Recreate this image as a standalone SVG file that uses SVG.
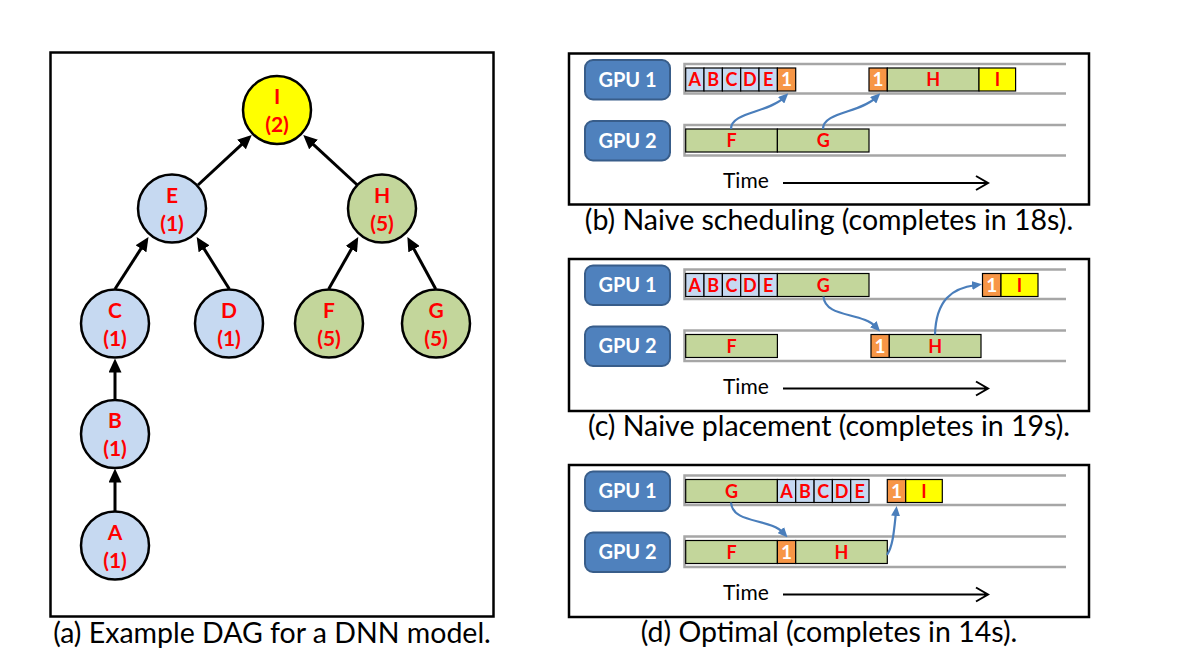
<svg xmlns="http://www.w3.org/2000/svg" width="1192" height="664" viewBox="0 0 1192 664">
<defs>
<style>
.frame{fill:#fff;stroke:#000;stroke-width:2.5}
.cap{font-family:Lato,'Open Sans','Liberation Sans',sans-serif;font-size:28.5px;fill:#000;text-anchor:middle}
.nb{fill:#C6D9F1;stroke:#000;stroke-width:2.5}
.ng{fill:#C3D69B;stroke:#000;stroke-width:2.5}
.ny{fill:#FFFF00;stroke:#000;stroke-width:2.5}
.nt{font-family:Lato,'Open Sans','Liberation Sans',sans-serif;font-weight:bold;font-size:21px;fill:#FF0000;text-anchor:middle}
.edge{stroke:#000;stroke-width:3;fill:none;marker-end:url(#ah)}
.gpu{fill:#4F81BD;stroke:#385D8A;stroke-width:2}
.gt{font-family:Lato,'Open Sans','Liberation Sans',sans-serif;font-weight:bold;font-size:20px;fill:#fff;text-anchor:middle}
.track{fill:none;stroke:#A6A6A6;stroke-width:2.5}
.bb{fill:#C6D9F1;stroke:#000;stroke-width:1.2}
.bg{fill:#C3D69B;stroke:#000;stroke-width:1.2}
.by{fill:#FFFF00;stroke:#000;stroke-width:1.2}
.bo{fill:#F79646;stroke:#000;stroke-width:1.2}
.bt{font-family:Lato,'Open Sans','Liberation Sans',sans-serif;font-weight:bold;font-size:18px;fill:#FF0000;text-anchor:middle}
.ot{font-family:Lato,'Open Sans','Liberation Sans',sans-serif;font-weight:bold;font-size:19px;fill:#fff;text-anchor:middle}
.flow{fill:none;stroke:#4A7EBB;stroke-width:2.2;marker-end:url(#bh)}
.time{font-family:Lato,'Open Sans','Liberation Sans',sans-serif;font-size:21px;fill:#000}
.tarrow{stroke:#000;stroke-width:2;fill:none}
</style>
<marker id="ah" markerUnits="userSpaceOnUse" markerWidth="14" markerHeight="13" refX="7" refY="6.5" orient="auto"><path d="M0,0 L14,6.5 L0,13 z" fill="#000"/></marker>
<marker id="bh" markerUnits="userSpaceOnUse" markerWidth="10" markerHeight="9" refX="4" refY="4.5" orient="auto"><path d="M0,0 L10,4.5 L0,9 z" fill="#4A7EBB"/></marker>
</defs>
<rect width="1192" height="664" fill="#fff"/>

<!-- Panel (a) -->
<rect class="frame" x="50.5" y="52.5" width="443" height="564"/>
<g id="connectors">
<line class="edge" x1="198" y1="185" x2="246.6" y2="139.8"/>
<line class="edge" x1="357.3" y1="185" x2="308.4" y2="139.8"/>
<line class="edge" x1="115" y1="289" x2="144.7" y2="242.9"/>
<line class="edge" x1="229.3" y1="289" x2="200.4" y2="242.9"/>
<line class="edge" x1="328.7" y1="289" x2="354.8" y2="243.1"/>
<line class="edge" x1="435.7" y1="289" x2="410.7" y2="243.1"/>
<line class="edge" x1="115" y1="400" x2="115" y2="365.5"/>
<line class="edge" x1="115" y1="511" x2="115" y2="475.5"/>
</g>
<g id="node-I"><circle class="ny" cx="277" cy="110" r="34"/><text class="nt" x="277" y="104">I</text><text class="nt" x="277" y="132">(2)</text></g>
<g id="node-E"><circle class="nb" cx="172" cy="208.5" r="34"/><text class="nt" x="172" y="202.5">E</text><text class="nt" x="172" y="230.5">(1)</text></g>
<g id="node-H"><circle class="ng" cx="382" cy="208.5" r="34"/><text class="nt" x="382" y="202.5">H</text><text class="nt" x="382" y="230.5">(5)</text></g>
<g id="node-C"><circle class="nb" cx="115" cy="323.5" r="34"/><text class="nt" x="115" y="317.5">C</text><text class="nt" x="115" y="345.5">(1)</text></g>
<g id="node-D"><circle class="nb" cx="229" cy="323.5" r="34"/><text class="nt" x="229" y="317.5">D</text><text class="nt" x="229" y="345.5">(1)</text></g>
<g id="node-F"><circle class="ng" cx="329" cy="323.5" r="34"/><text class="nt" x="329" y="317.5">F</text><text class="nt" x="329" y="345.5">(5)</text></g>
<g id="node-G"><circle class="ng" cx="436" cy="323.5" r="34"/><text class="nt" x="436" y="317.5">G</text><text class="nt" x="436" y="345.5">(5)</text></g>
<g id="node-B"><circle class="nb" cx="115" cy="434" r="34"/><text class="nt" x="115" y="428">B</text><text class="nt" x="115" y="456">(1)</text></g>
<g id="node-A"><circle class="nb" cx="115" cy="545.5" r="34"/><text class="nt" x="115" y="539.5">A</text><text class="nt" x="115" y="567.5">(1)</text></g>
<text class="cap" x="272" y="643">(a) Example DAG for a DNN model.</text>

<!-- Panel (b) -->
<g id="panel-b">
<rect class="frame" x="569" y="53.5" width="520" height="151"/>
<g id="b-gpu1"><rect class="gpu" x="585" y="60" width="85" height="39.5" rx="8"/><text class="gt" x="627.5" y="86.5">GPU 1</text></g>
<g id="b-gpu2"><rect class="gpu" x="585" y="121" width="85" height="39.5" rx="8"/><text class="gt" x="627.5" y="147.5">GPU 2</text></g>
<path class="track" d="M1066,64 H684.5 V93.5 H1066"/>
<path class="track" d="M1066,125 H684.5 V155.5 H1066"/>
<g id="b-tasks1">
<rect class="bb" x="685.7" y="68" width="18.3" height="23"/><text class="bt" x="694.8" y="86">A</text>
<rect class="bb" x="704" y="68" width="18.4" height="23"/><text class="bt" x="713.2" y="86">B</text>
<rect class="bb" x="722.4" y="68" width="18.3" height="23"/><text class="bt" x="731.5" y="86">C</text>
<rect class="bb" x="740.7" y="68" width="18.3" height="23"/><text class="bt" x="749.8" y="86">D</text>
<rect class="bb" x="759" y="68" width="18.4" height="23"/><text class="bt" x="768.2" y="86">E</text>
<rect class="bo" x="777.4" y="68" width="18.3" height="23"/><text class="ot" x="786.5" y="86">1</text>
<rect class="bo" x="869" y="68" width="18.3" height="23"/><text class="ot" x="878.1" y="86">1</text>
<rect class="bg" x="887.3" y="68" width="91.7" height="23"/><text class="bt" x="933.1" y="86">H</text>
<rect class="by" x="979" y="68" width="36.6" height="23"/><text class="bt" x="997.3" y="86">I</text>
</g>
<g id="b-tasks2">
<rect class="bg" x="685.7" y="129" width="91.7" height="23"/><text class="bt" x="731.5" y="147">F</text>
<rect class="bg" x="777.4" y="129" width="91.6" height="23"/><text class="bt" x="823.2" y="147">G</text>
</g>
<g id="b-flows">
<path class="flow" d="M731,129 C731,112 768,113 784,97.5"/>
<path class="flow" d="M823,129 C823,112 860,113 876,97.5"/>
</g>
<text class="time" x="723" y="188">Time</text>
<path class="tarrow" d="M783,183 H987 M976,176 L988,183 L976,190"/>
<text class="cap" x="829" y="230">(b) Naive scheduling (completes in 18s).</text>
</g>

<!-- Panel (c) -->
<g id="panel-c">
<rect class="frame" x="569" y="259" width="520" height="152"/>
<g id="c-gpu1"><rect class="gpu" x="585" y="265.5" width="85" height="39.5" rx="8"/><text class="gt" x="627.5" y="292">GPU 1</text></g>
<g id="c-gpu2"><rect class="gpu" x="585" y="326.5" width="85" height="39.5" rx="8"/><text class="gt" x="627.5" y="353">GPU 2</text></g>
<path class="track" d="M1066,269.5 H684.5 V299 H1066"/>
<path class="track" d="M1066,330.5 H684.5 V361 H1066"/>
<g id="c-tasks1">
<rect class="bb" x="685.7" y="273.5" width="18.3" height="23"/><text class="bt" x="694.8" y="291.5">A</text>
<rect class="bb" x="704" y="273.5" width="18.4" height="23"/><text class="bt" x="713.2" y="291.5">B</text>
<rect class="bb" x="722.4" y="273.5" width="18.3" height="23"/><text class="bt" x="731.5" y="291.5">C</text>
<rect class="bb" x="740.7" y="273.5" width="18.3" height="23"/><text class="bt" x="749.8" y="291.5">D</text>
<rect class="bb" x="759" y="273.5" width="18.4" height="23"/><text class="bt" x="768.2" y="291.5">E</text>
<rect class="bg" x="777.4" y="273.5" width="91.6" height="23"/><text class="bt" x="823.2" y="291.5">G</text>
<rect class="bo" x="982.5" y="273.5" width="18.5" height="23"/><text class="ot" x="991.7" y="291.5">1</text>
<rect class="by" x="1001" y="273.5" width="37" height="23"/><text class="bt" x="1019.5" y="291.5">I</text>
</g>
<g id="c-tasks2">
<rect class="bg" x="685.7" y="334.5" width="91.7" height="23"/><text class="bt" x="731.5" y="352.5">F</text>
<rect class="bo" x="871" y="334.5" width="18.3" height="23"/><text class="ot" x="880.1" y="352.5">1</text>
<rect class="bg" x="889.3" y="334.5" width="91.7" height="23"/><text class="bt" x="935.1" y="352.5">H</text>
</g>
<g id="c-flows">
<path class="flow" d="M823.5,296.5 C825,318 862,312 876,327"/>
<path class="flow" d="M935,334.5 C936,300 952,288 976,285"/>
</g>
<text class="time" x="723" y="393.5">Time</text>
<path class="tarrow" d="M783,388.5 H987 M976,381.5 L988,388.5 L976,395.5"/>
<text class="cap" x="829" y="436">(c) Naive placement (completes in 19s).</text>
</g>

<!-- Panel (d) -->
<g id="panel-d">
<rect class="frame" x="569" y="465" width="520" height="152"/>
<g id="d-gpu1"><rect class="gpu" x="585" y="471.5" width="85" height="39.5" rx="8"/><text class="gt" x="627.5" y="498">GPU 1</text></g>
<g id="d-gpu2"><rect class="gpu" x="585" y="532.5" width="85" height="39.5" rx="8"/><text class="gt" x="627.5" y="559">GPU 2</text></g>
<path class="track" d="M1066,475.5 H684.5 V505 H1066"/>
<path class="track" d="M1066,536.5 H684.5 V567 H1066"/>
<g id="d-tasks1">
<rect class="bg" x="685.7" y="479.5" width="91.7" height="23"/><text class="bt" x="731.5" y="497.5">G</text>
<rect class="bb" x="777.4" y="479.5" width="18.3" height="23"/><text class="bt" x="786.5" y="497.5">A</text>
<rect class="bb" x="795.7" y="479.5" width="18.4" height="23"/><text class="bt" x="804.9" y="497.5">B</text>
<rect class="bb" x="814.1" y="479.5" width="18.3" height="23"/><text class="bt" x="823.2" y="497.5">C</text>
<rect class="bb" x="832.4" y="479.5" width="18.3" height="23"/><text class="bt" x="841.5" y="497.5">D</text>
<rect class="bb" x="850.7" y="479.5" width="18.3" height="23"/><text class="bt" x="859.8" y="497.5">E</text>
<rect class="bo" x="887.3" y="479.5" width="18.4" height="23"/><text class="ot" x="896.5" y="497.5">1</text>
<rect class="by" x="905.7" y="479.5" width="36.6" height="23"/><text class="bt" x="924" y="497.5">I</text>
</g>
<g id="d-tasks2">
<rect class="bg" x="685.7" y="540.5" width="91.7" height="23"/><text class="bt" x="731.5" y="558.5">F</text>
<rect class="bo" x="777.4" y="540.5" width="18.3" height="23"/><text class="ot" x="786.5" y="558.5">1</text>
<rect class="bg" x="795.7" y="540.5" width="91.6" height="23"/><text class="bt" x="841.5" y="558.5">H</text>
</g>
<g id="d-flows">
<path class="flow" d="M731,502.5 C732.5,524 769.5,518 783.5,533"/>
<path class="flow" d="M887,555 C893,546 894,531 896,512"/>
</g>
<text class="time" x="723" y="599.5">Time</text>
<path class="tarrow" d="M783,594.5 H987 M976,587.5 L988,594.5 L976,601.5"/>
<text class="cap" x="829" y="642">(d) Optimal (completes in 14s).</text>
</g>
</svg>
